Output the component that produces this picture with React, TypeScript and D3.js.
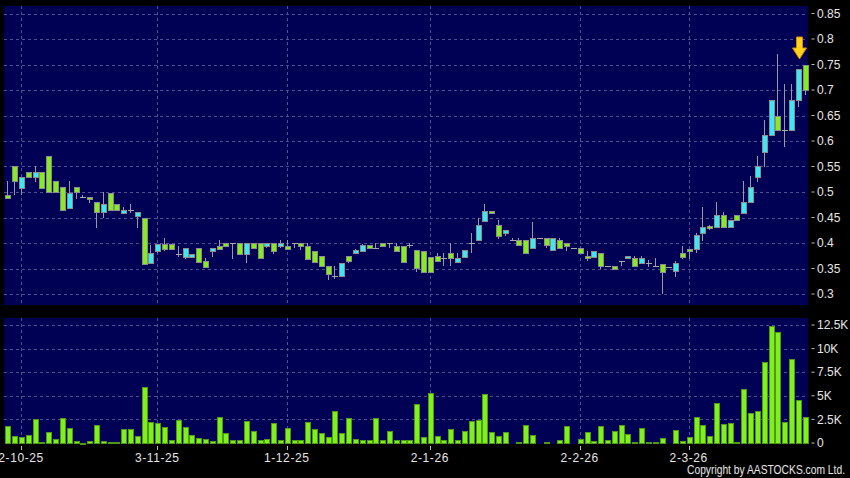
import React from 'react';
import * as d3 from 'd3';

// daily OHLC, oldest first
const opens = [
  0.495, 0.55, 0.509, 0.54, 0.531, 0.54, 0.57, 0.521, 0.509, 0.47,
  0.509, 0.49, 0.49, 0.48, 0.46, 0.499, 0.476, 0.46, 0.464, 0.4535,
  0.45, 0.36, 0.386, 0.399, 0.399, 0.379, 0.373, 0.373, 0.39, 0.365,
  0.385, 0.395, 0.4, 0.4, 0.4, 0.379, 0.4, 0.4, 0.395, 0.4,
  0.395, 0.395, 0.4, 0.4, 0.395, 0.385, 0.374, 0.355, 0.335, 0.335,
  0.374, 0.38, 0.385, 0.396, 0.39, 0.4, 0.4, 0.395, 0.395, 0.396,
  0.386, 0.385, 0.373, 0.374, 0.37, 0.38, 0.363, 0.373, 0.4, 0.405,
  0.444, 0.463, 0.435, 0.419, 0.405, 0.405, 0.405, 0.39, 0.409, 0.409,
  0.385, 0.405, 0.4, 0.39, 0.39, 0.374, 0.374, 0.38, 0.355, 0.355,
  0.365, 0.37, 0.37, 0.36, 0.36, 0.355, 0.359, 0.353, 0.344, 0.38,
  0.389, 0.389, 0.419, 0.434, 0.431, 0.455, 0.431, 0.454, 0.459, 0.48,
  0.53, 0.579, 0.611, 0.65, 0.622, 0.622, 0.68, 0.75,
];
const highs = [
  0.522, 0.55, 0.53, 0.54, 0.551, 0.54, 0.57, 0.521, 0.509, 0.521,
  0.509, 0.495, 0.49, 0.48, 0.5, 0.499, 0.476, 0.471, 0.476, 0.4607,
  0.45, 0.396, 0.399, 0.409, 0.399, 0.395, 0.39, 0.379, 0.39, 0.37,
  0.39, 0.406, 0.4, 0.4, 0.4, 0.4, 0.4, 0.4, 0.4, 0.4,
  0.406, 0.406, 0.4, 0.4, 0.4, 0.385, 0.374, 0.355, 0.355, 0.36,
  0.374, 0.389, 0.399, 0.396, 0.4, 0.4, 0.4, 0.4, 0.395, 0.4,
  0.386, 0.385, 0.373, 0.38, 0.38, 0.4, 0.38, 0.386, 0.419, 0.45,
  0.476, 0.463, 0.445, 0.425, 0.409, 0.409, 0.405, 0.442, 0.409, 0.409,
  0.409, 0.409, 0.4, 0.39, 0.39, 0.385, 0.385, 0.38, 0.355, 0.355,
  0.365, 0.374, 0.374, 0.374, 0.366, 0.37, 0.359, 0.353, 0.365, 0.395,
  0.389, 0.419, 0.47, 0.436, 0.481, 0.461, 0.445, 0.454, 0.522, 0.531,
  0.571, 0.641, 0.68, 0.771, 0.712, 0.712, 0.741, 0.75,
];
const lows = [
  0.49, 0.494, 0.495, 0.531, 0.52, 0.509, 0.499, 0.499, 0.464, 0.47,
  0.486, 0.489, 0.479, 0.43, 0.45, 0.465, 0.465, 0.46, 0.458, 0.43,
  0.36, 0.36, 0.38, 0.385, 0.389, 0.373, 0.368, 0.373, 0.363, 0.353,
  0.373, 0.39, 0.395, 0.368, 0.379, 0.36, 0.39, 0.37, 0.39, 0.379,
  0.39, 0.39, 0.39, 0.386, 0.37, 0.363, 0.355, 0.327, 0.329, 0.335,
  0.36, 0.38, 0.385, 0.39, 0.39, 0.395, 0.39, 0.385, 0.363, 0.39,
  0.344, 0.344, 0.344, 0.364, 0.354, 0.354, 0.363, 0.37, 0.38, 0.405,
  0.444, 0.459, 0.408, 0.414, 0.405, 0.395, 0.38, 0.39, 0.409, 0.39,
  0.385, 0.39, 0.385, 0.39, 0.38, 0.365, 0.374, 0.35, 0.355, 0.35,
  0.355, 0.37, 0.355, 0.36, 0.353, 0.355, 0.3, 0.353, 0.334, 0.369,
  0.369, 0.38, 0.404, 0.425, 0.431, 0.431, 0.431, 0.445, 0.459, 0.48,
  0.52, 0.55, 0.611, 0.622, 0.589, 0.622, 0.667, 0.69,
];
const closes = [
  0.49, 0.52, 0.53, 0.531, 0.54, 0.509, 0.499, 0.499, 0.464, 0.499,
  0.499, 0.49, 0.486, 0.46, 0.476, 0.465, 0.465, 0.465, 0.464, 0.4607,
  0.36, 0.38, 0.399, 0.389, 0.389, 0.379, 0.39, 0.379, 0.363, 0.353,
  0.39, 0.39, 0.395, 0.4, 0.379, 0.4, 0.39, 0.37, 0.4, 0.385,
  0.4, 0.39, 0.4, 0.395, 0.37, 0.363, 0.355, 0.34, 0.335, 0.36,
  0.365, 0.386, 0.396, 0.39, 0.39, 0.395, 0.4, 0.385, 0.363, 0.396,
  0.35, 0.344, 0.344, 0.364, 0.37, 0.37, 0.37, 0.386, 0.4, 0.435,
  0.463, 0.459, 0.414, 0.425, 0.405, 0.395, 0.38, 0.409, 0.409, 0.395,
  0.409, 0.39, 0.395, 0.39, 0.38, 0.37, 0.385, 0.355, 0.355, 0.35,
  0.365, 0.374, 0.355, 0.37, 0.36, 0.355, 0.344, 0.353, 0.36, 0.373,
  0.385, 0.416, 0.431, 0.431, 0.455, 0.431, 0.445, 0.445, 0.481, 0.509,
  0.551, 0.612, 0.68, 0.622, 0.622, 0.68, 0.741, 0.701,
];
// volume in thousands of shares
const volumes = [
  1.84, 0.69, 0.66, 0.87, 2.5, 0.1, 1.2, 0.4, 2.6, 1.56,
  0.17, 0.03, 0.17, 1.9, 0.2, 0.14, 0.14, 1.5, 1.53, 0.69,
  5.9, 2.26, 2.1, 1.67, 0.35, 2.47, 1.7, 0.87, 0.56, 0.38,
  0.24, 2.74, 1.04, 0.35, 0.35, 2.33, 1.25, 0.31, 0.45, 2.1,
  0.35, 1.6, 0.28, 0.35, 2.26, 1.53, 1.08, 0.66, 3.4, 1.1,
  2.64, 0.45, 0.35, 0.35, 2.67, 0.31, 1.25, 0.31, 0.31, 0.31,
  4.13, 0.62, 5.31, 0.73, 0.31, 1.5, 0.31, 1.25, 2.33, 2.47,
  5.24, 1.15, 0.73, 1.18, 0, 0.14, 1.87, 0.87, 0, 0.14,
  0, 0.35, 1.84, 0, 0.42, 1.16, 0.21, 1.76, 0.32, 1.26,
  1.86, 0.95, 0.1, 1.58, 0.14, 0.14, 0.49, 0, 1.37, 0.18,
  0.63, 2.74, 1.86, 0.7, 4.28, 1.97, 2.07, 0.1, 5.76, 3.23,
  3.37, 8.6, 12.43, 11.73, 2.18, 8.88, 4.56, 2.74,
];

const dateLabels = ['2-10-25', '3-11-25', '1-12-25', '2-1-26', '2-2-26', '2-3-26'];
const dateTickIdx = [2, 22, 41, 62, 84, 100];
const priceTicks = [0.3, 0.35, 0.4, 0.45, 0.5, 0.55, 0.6, 0.65, 0.7, 0.75, 0.8, 0.85];
const volTicks = [0, 2.5, 5, 7.5, 10, 12.5];
const volLabels = ['0', '2.5K', '5K', '7.5K', '10K', '12.5K'];

export default function App() {
  const width = 850;
  const height = 478;
  const plot = {left: 4, right: 808, priceTop: 6, priceBottom: 305, volTop: 318, volBottom: 444};

  const x = d3.scaleLinear().domain([-0.5, opens.length - 0.5]).range([plot.left, plot.right]);
  const y_price = d3.scaleLinear().domain([0.3, 0.85]).range([294, 13.5]);
  const y_vol = d3.scaleLinear().domain([0, 12.5]).range([443, 325]);
  const bw = 5;

  const bg = '#000055';
  const grid = '#50508f';
  const txt = '#e6e6e6';
  const font = '"Liberation Sans", Arial, sans-serif';

  const last = opens.length - 1;
  const ax = Math.min(x(last), plot.right - 8.5);
  const ay = y_price(highs[last]) - 5.5;
  // down arrow marker, tip at (ax, ay)
  const arrow = d3.path();
  arrow.moveTo(ax - 3, ay - 22);
  arrow.lineTo(ax + 3, ay - 22);
  arrow.lineTo(ax + 3, ay - 11);
  arrow.lineTo(ax + 7, ay - 11);
  arrow.lineTo(ax, ay);
  arrow.lineTo(ax - 7, ay - 11);
  arrow.lineTo(ax - 3, ay - 11);
  arrow.closePath();

  return (
    <div style={{position: 'absolute', left: 0, top: 0, width, height, background: '#000'}}>
      <svg width={width} height={height} style={{display: 'block'}}>
        <rect x={0} y={0} width={width} height={height} fill="#000" />
        <rect x={plot.left} y={plot.priceTop} width={plot.right - plot.left} height={plot.priceBottom - plot.priceTop} fill={bg} />
        <rect x={plot.left} y={plot.volTop} width={plot.right - plot.left} height={plot.volBottom - plot.volTop} fill={bg} />

        {/* grid */}
        <g stroke={grid} strokeWidth={1} strokeDasharray="3,3" shapeRendering="crispEdges">
          {priceTicks.map(p => (
            <line key={'hp' + p} x1={plot.left} x2={plot.right} y1={Math.round(y_price(p)) + 0.5} y2={Math.round(y_price(p)) + 0.5} />
          ))}
          {volTicks.slice(1).map(v => (
            <line key={'hv' + v} x1={plot.left} x2={plot.right} y1={Math.round(y_vol(v)) + 0.5} y2={Math.round(y_vol(v)) + 0.5} />
          ))}
          {dateTickIdx.map(i => (
            <g key={'vg' + i}>
              <line x1={Math.round(x(i)) + 0.5} x2={Math.round(x(i)) + 0.5} y1={plot.priceTop} y2={plot.priceBottom} />
              <line x1={Math.round(x(i)) + 0.5} x2={Math.round(x(i)) + 0.5} y1={plot.volTop} y2={plot.volBottom} />
            </g>
          ))}
        </g>

        {/* candles */}
        <g shapeRendering="crispEdges">
          {opens.map((o, i) => {
            const c = closes[i];
            const cx = Math.round(x(i)) + 0.5;
            const top = y_price(Math.max(o, c));
            const bot = y_price(Math.min(o, c));
            const fill = c > o ? '#3ce9f2' : '#84ee1c';
            return (
              <g key={'c' + i}>
                <line x1={cx} x2={cx} y1={y_price(highs[i])} y2={y_price(lows[i])} stroke="#9a9a9a" strokeWidth={1} />
                {c === o ? (
                  <line x1={cx - 3} x2={cx + 3} y1={Math.round(top) + 0.5} y2={Math.round(top) + 0.5} stroke="#a8a8a8" strokeWidth={1} />
                ) : (
                  <rect x={cx - bw / 2} y={Math.round(top) + 0.5} width={bw} height={Math.max(1, Math.round(bot - top))} fill={fill} stroke="#8c8c8c" strokeWidth={1} />
                )}
              </g>
            );
          })}
        </g>

        {/* volume */}
        <g shapeRendering="crispEdges">
          {volumes.map((v, i) => v > 0 && (
            <rect key={'v' + i} x={Math.round(x(i)) - 2} y={Math.round(y_vol(v)) + 0.5} width={5} height={Math.max(0.5, Math.round(y_vol(0) - y_vol(v)) - 0.5)} fill="#7ff01e" stroke="#4f9a12" strokeWidth={1} />
          ))}
        </g>

        {/* arrow */}
        <path d={arrow.toString()} fill="#ffd21c" stroke="#d98a00" strokeWidth={1} />

        {/* right axes */}
        <g fontFamily={font} fontSize={12} fill={txt}>
          {priceTicks.map(p => (
            <g key={'tp' + p}>
              <line x1={811.5} x2={814.5} y1={y_price(p)} y2={y_price(p)} stroke="#bbb" />
              <text x={817} y={y_price(p)} dy="0.35em">{p}</text>
            </g>
          ))}
          {volTicks.map((v, k) => (
            <g key={'tv' + v}>
              <line x1={811.5} x2={814.5} y1={y_vol(v)} y2={y_vol(v)} stroke="#bbb" />
              <text x={817} y={y_vol(v)} dy="0.35em">{volLabels[k]}</text>
            </g>
          ))}
        </g>

        {/* date axis */}
        <g fontFamily={font} fontSize={12} fill={txt}>
          {dateTickIdx.map((i, k) => (
            <g key={'td' + i}>
              <line x1={Math.round(x(i)) + 0.5} x2={Math.round(x(i)) + 0.5} y1={446} y2={450} stroke="#bbb" />
              <text x={x(i)} y={462} textAnchor="middle" letterSpacing={0.6}>{dateLabels[k]}</text>
            </g>
          ))}
        </g>

        <text x={845} y={474} textAnchor="end" fontFamily={font} fontSize={12} fill={txt} textLength={158} lengthAdjust="spacingAndGlyphs">
          Copyright by AASTOCKS.com Ltd.
        </text>
      </svg>
    </div>
  );
}
